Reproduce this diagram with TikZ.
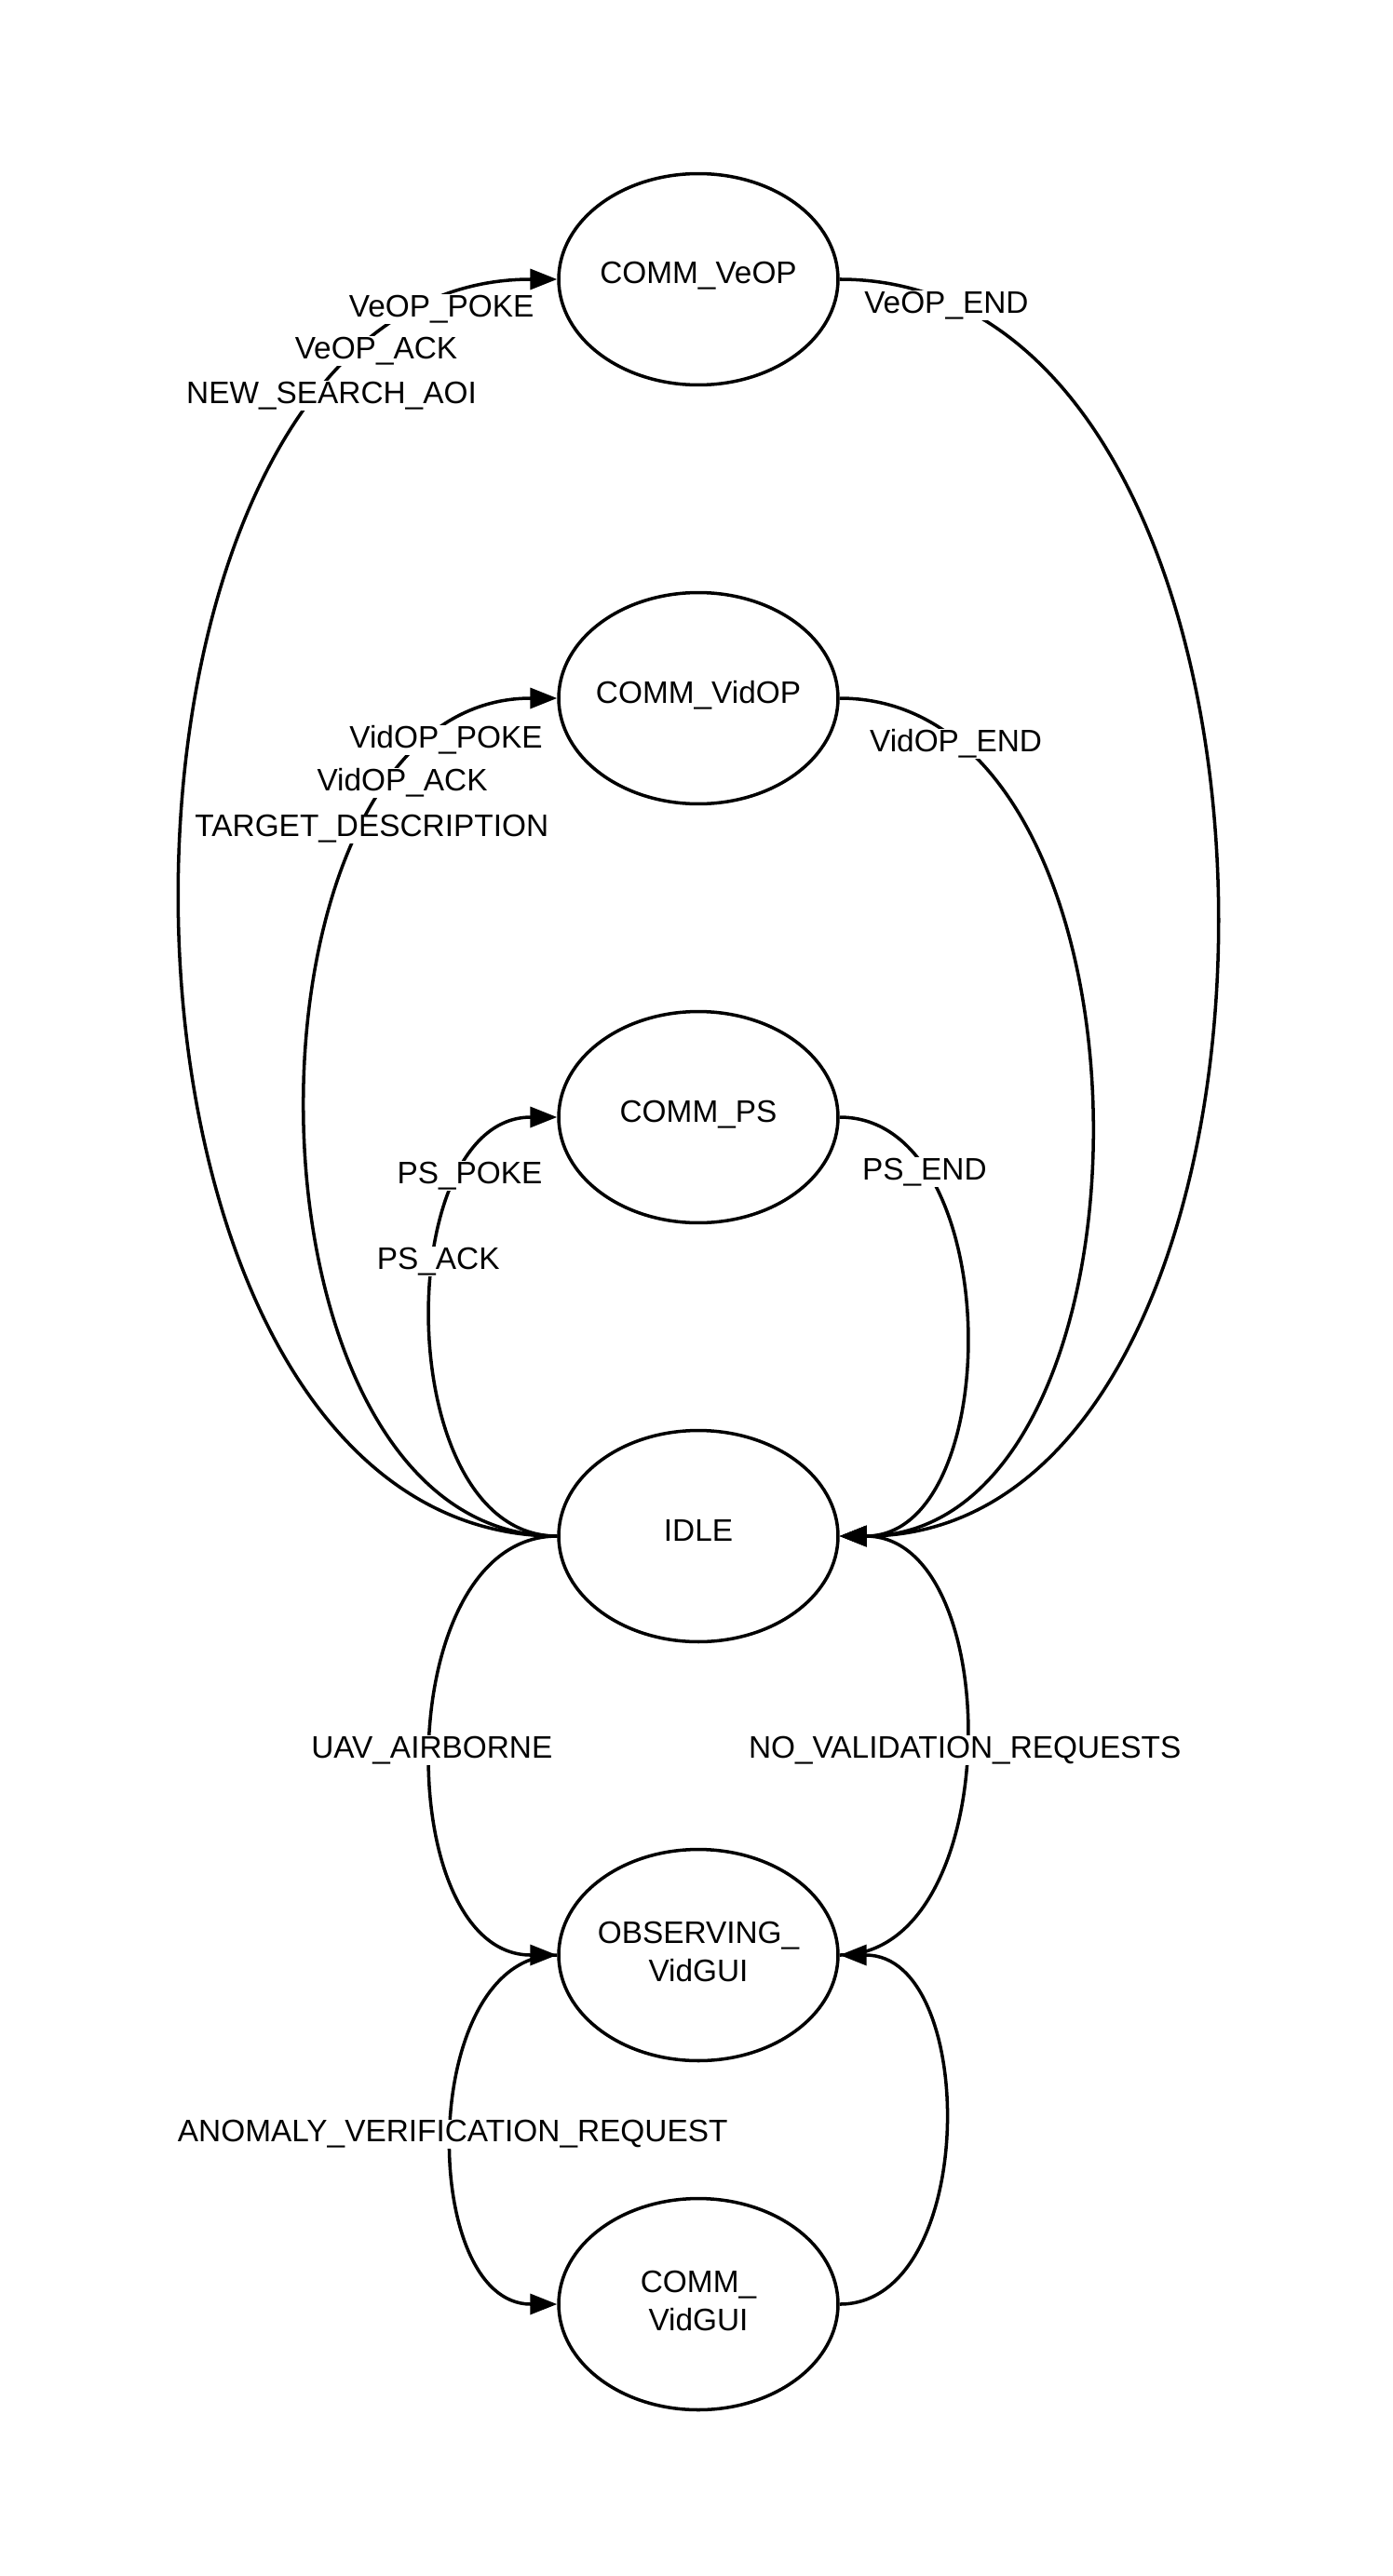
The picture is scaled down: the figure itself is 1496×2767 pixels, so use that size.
\documentclass[tikz,border=0pt]{standalone}
\usepackage{fontspec}
\setmainfont{Liberation Sans}
\usetikzlibrary{shapes.geometric,arrows.meta}
\newcommand\diagfont{\fontsize{19}{23.3}\selectfont}
\begin{document}
\begin{tikzpicture}[x=0.02cm,y=-0.02cm,
  state/.style={ellipse,draw,line width=2pt,fill=white,minimum width=6cm,
    minimum height=4.54cm,inner sep=0pt,font=\diagfont},
  oneline/.style={text height=0.5cm,text depth=0.3cm},
  trans/.style={line width=2pt,-{Triangle[length=0.58cm,width=0.44cm]}},
  lbl/.style={fill=white,inner sep=0.5pt,yshift=-0.1cm,font=\diagfont},
  lft/.style={out=180,in=180,looseness=1.0217},
  rgt/.style={out=0,in=0,looseness=1.0217}]

% canvas
\fill[white] (0,0) rectangle (1496,2767);
\useasboundingbox (0,0) rectangle (1496,2767);

% states
\node[state,oneline] (veop)  at (750,300)  {\makebox[0pt]{COMM\_VeOP}};
\node[state,oneline] (vidop) at (750,750)  {\makebox[0pt]{COMM\_VidOP}};
\node[state,oneline] (ps)    at (750,1200) {\makebox[0pt]{COMM\_PS}};
\node[state,oneline] (idle)  at (750,1650) {\makebox[0pt]{IDLE}};
\node[state] (obs) at (750,2100)
  {\makebox[0pt]{\begin{tabular}{@{}c@{}}OBSERVING\_\\VidGUI\end{tabular}}};
\node[state] (gui) at (750,2475)
  {\makebox[0pt]{\begin{tabular}{@{}c@{}}COMM\_\\VidGUI\end{tabular}}};

% transitions leaving IDLE on the left
\draw[trans] (idle.west) to[lft]
  node[lbl,pos=0.916] (veoppoke) {VeOP\_POKE}
  node[lbl,pos=0.860] (veopack) {VeOP\_ACK}
  node[lbl,pos=0.816] (newaoi) {NEW\_SEARCH\_AOI} (veop.west);
\draw[trans] (idle.west) to[lft]
  node[lbl,pos=0.873] (vidoppoke) {VidOP\_POKE}
  node[lbl,pos=0.809] (vidopack) {VidOP\_ACK}
  node[lbl,pos=0.755] (targetdesc) {TARGET\_DESCRIPTION} (vidop.west);
\draw[trans] (idle.west) to[lft]
  node[lbl,pos=0.775] (pspoke) {PS\_POKE}
  node[lbl,pos=0.613] (psack) {PS\_ACK} (ps.west);

% transitions returning to IDLE on the right
\draw[trans] (veop.east) to[rgt] node[lbl,pos=0.077] (veopend) {VeOP\_END} (idle.east);
\draw[trans] (vidop.east) to[rgt] node[lbl,pos=0.134] (vidopend) {VidOP\_END} (idle.east);
\draw[trans] (ps.east) to[rgt] node[lbl,pos=0.216] (psend) {PS\_END} (idle.east);

% lower part
\draw[trans] (idle.west) to[lft] node[lbl,pos=0.5] (airborne) {UAV\_AIRBORNE} (obs.west);
\draw[trans] (obs.east) to[rgt] node[lbl,pos=0.5] (novalid) {NO\_VALIDATION\_REQUESTS} (idle.east);
\draw[trans] (obs.west) to[lft] node[lbl,pos=0.5] (anomaly) {ANOMALY\_VERIFICATION\_REQUEST} (gui.west);
\draw[trans] (gui.east) to[rgt] (obs.east);
\end{tikzpicture}
\end{document}
